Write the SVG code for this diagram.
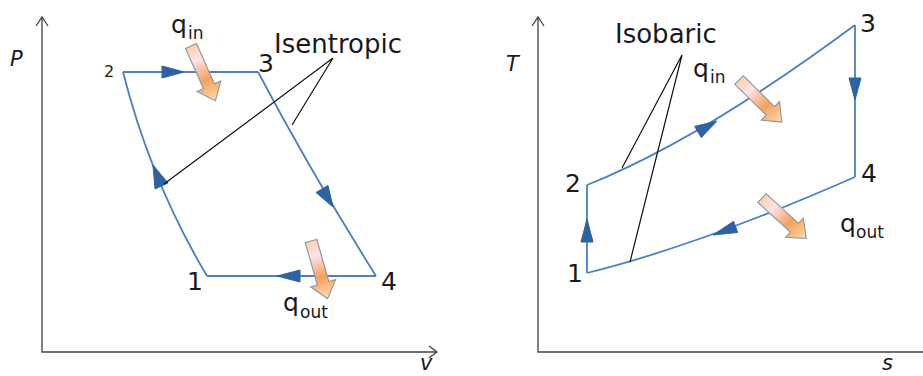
<svg xmlns="http://www.w3.org/2000/svg" width="923" height="376" viewBox="0 0 923 376">
<style>
.ax{fill:none;stroke:#404040;stroke-width:1.3}
.cy{fill:none;stroke:#4a80c4;stroke-width:1.8}
.ah{fill:#2f62a3;stroke:#2f62a3;stroke-width:1;stroke-linejoin:round}
.ld{fill:none;stroke:#111;stroke-width:1.2}
.t{font-family:"DejaVu Sans",Verdana,sans-serif;fill:#1a1a1a}
.big{font-size:26px}
.num{font-size:25px}
.q{font-size:25px}
.sub{font-size:17px}
.it{font-style:italic;font-size:21px}
.ha{fill:url(#hg);stroke:#8d93a3;stroke-width:1.1}
</style>
<defs>
<linearGradient id="hg" x1="0" y1="0" x2="1" y2="0">
<stop offset="0" stop-color="#fbd2a6"/>
<stop offset="0.25" stop-color="#fbe3ea"/>
<stop offset="0.62" stop-color="#f5a15c"/>
<stop offset="1" stop-color="#fddcb0"/>
</linearGradient>
<polygon id="blk" points="0,-6 44,-6 44,-13 60,0 44,13 44,6 0,6"/>
</defs>

<g id="axes-pv">
<path class="ax" d="M42,17 V352 H437"/>
<path class="ax" d="M36,26 L42,17 L48,26 M429,346 L437,352 L429,358"/>
<text class="t it" x="10" y="66">P</text>
<text class="t it" x="420" y="370">v</text>
</g>

<g id="axes-ts">
<path class="ax" d="M538,17 V352 H923"/>
<path class="ax" d="M532,26 L538,17 L544,26"/>
<text class="t it" x="506" y="71">T</text>
<text class="t it" x="882" y="370">s</text>
</g>

<g id="connectors">
<!-- P-v cycle -->
<path class="cy" d="M123,72 H258"/>
<path class="cy" d="M258,72 Q312,174 376,276"/>
<path class="cy" d="M376,276 H207"/>
<path class="cy" d="M207,276 Q151,182 123,72"/>
<polygon class="ah" points="184,72 162,66 162,78"/>
<polygon class="ah" points="333,207 316,192.5 328,185.5"/>
<polygon class="ah" points="277,276 300,270 300,282"/>
<polygon class="ah" points="153,165 155,189 168,183"/>
<!-- T-s cycle -->
<path class="cy" d="M587,273 V185"/>
<path class="cy" d="M587,185 Q700,140 855,25"/>
<path class="cy" d="M855,25 V177"/>
<path class="cy" d="M855,177 Q700,245 587,273"/>
<polygon class="ah" points="587,219 581,242 593,242"/>
<polygon class="ah" points="717,121 694.7,126.4 701.3,137.6"/>
<polygon class="ah" points="855,100 849,78 861,78"/>
<polygon class="ah" points="713,235 733.6,221.3 737.6,232.5"/>
<!-- leader lines -->
<path class="ld" d="M333,58 L164,184 M333,58 L292,125"/>
<path class="ld" d="M682,55 L622,168 M682,55 L630,262"/>
</g>

<g id="pv-state-1"><text class="t num" x="187" y="290">1</text></g>
<g id="pv-state-2"><text class="t" style="font-size:16px" x="104" y="77">2</text></g>
<g id="pv-state-3"><text class="t num" x="258" y="72">3</text></g>
<g id="pv-state-4"><text class="t num" x="381" y="290">4</text></g>
<g id="pv-isentropic"><text class="t big" x="274" y="53">Isentropic</text></g>
<g id="pv-qin">
<use href="#blk" class="ha" transform="translate(191,46) rotate(66)"/>
<text class="t q" x="171" y="33">q</text><text class="t sub" x="188" y="39">in</text>
</g>
<g id="pv-qout">
<use href="#blk" class="ha" transform="translate(311,241) rotate(74)"/>
<text class="t q" x="283" y="311">q</text><text class="t sub" x="300" y="318">out</text>
</g>

<g id="ts-state-1"><text class="t num" x="567" y="282">1</text></g>
<g id="ts-state-2"><text class="t num" x="565" y="192">2</text></g>
<g id="ts-state-3"><text class="t num" x="860" y="32">3</text></g>
<g id="ts-state-4"><text class="t num" x="861" y="182">4</text></g>
<g id="ts-isobaric"><text class="t big" x="615" y="43">Isobaric</text></g>
<g id="ts-qin">
<use href="#blk" class="ha" transform="translate(739,80) rotate(44.5)"/>
<text class="t q" x="693" y="77">q</text><text class="t sub" x="710" y="83">in</text>
</g>
<g id="ts-qout">
<use href="#blk" class="ha" transform="translate(762,198) rotate(42.5)"/>
<text class="t q" x="840" y="232">q</text><text class="t sub" x="856" y="238">out</text>
</g>
</svg>
